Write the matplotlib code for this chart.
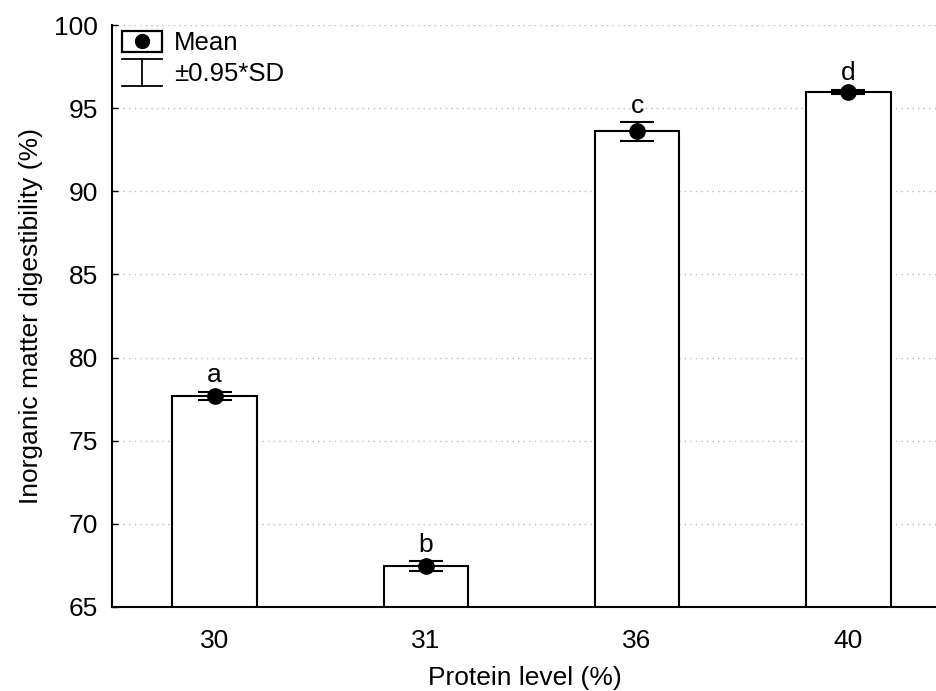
import matplotlib

matplotlib.use("Agg")
import matplotlib.pyplot as plt
from matplotlib.legend_handler import HandlerBase
from matplotlib.lines import Line2D
from matplotlib.patches import Rectangle

plt.rcParams["font.family"] = ["Liberation Sans", "DejaVu Sans"]

LEVELS = ["30", "31", "36", "40"]
MEANS = [77.7, 67.45, 93.6, 96.0]
ERRS = [0.25, 0.3, 0.57, 0.12]
LETTERS = ["a", "b", "c", "d"]
YTICKS = [65, 70, 75, 80, 85, 90, 95, 100]


class MeanHandler(HandlerBase):
    def create_artists(self, legend, orig, xd, yd, w, h, fs, trans):
        box = Rectangle((-xd, -yd - 0.1 * h), w, h * 1.2, facecolor="white",
                        edgecolor="black", lw=1.6, transform=trans)
        dot = Line2D([w / 2 - xd], [h / 2 - yd], marker="o", ms=10, color="black",
                     transform=trans)
        return [box, dot]


class ErrHandler(HandlerBase):
    def create_artists(self, legend, orig, xd, yd, w, h, fs, trans):
        top, bot = h * 1.2 - yd, -h * 0.3 - yd
        mid = w / 2 - xd
        return [
            Line2D([-xd, w - xd], [top, top], color="black", lw=1.3, transform=trans),
            Line2D([-xd, w - xd], [bot, bot], color="black", lw=1.3, transform=trans),
            Line2D([mid, mid], [bot, top], color="black", lw=1.3, transform=trans),
        ]


fig = plt.figure(figsize=(9.37, 6.91), dpi=100)
ax = fig.add_axes([0.1195, 0.1216, 0.8805, 0.8422])

x = list(range(len(LEVELS)))
ax.bar(x, [m - 65 for m in MEANS], bottom=65, width=0.4, facecolor="white",
       edgecolor="black", lw=1.5, zorder=3)
ax.errorbar(x, MEANS, yerr=ERRS, fmt="o", ms=11, color="black", ecolor="black",
            elinewidth=1.5, capsize=12, capthick=1.5, zorder=4)
for xi, m, e, lab in zip(x, MEANS, ERRS, LETTERS):
    ax.annotate(lab, (xi, m + e), xytext=(0, 3), textcoords="offset points",
                ha="center", va="bottom", fontsize=19)

ax.set_xlim(-0.486, 3.42)
ax.set_ylim(65, 100)
ax.set_xticks(x)
ax.set_xticklabels(LEVELS)
ax.set_yticks(YTICKS)
ax.tick_params(direction="in", labelsize=19, length=4, width=1)
ax.tick_params(axis="y", pad=10)
ax.tick_params(axis="x", pad=16)
ax.yaxis.grid(True, linestyle=(0, (1, 3)), color="#bbbbbb", lw=1)
ax.set_axisbelow(True)
for side in ["top", "right"]:
    ax.spines[side].set_visible(False)
for side in ["left", "bottom"]:
    ax.spines[side].set_linewidth(1.5)

ax.set_xlabel("Protein level (%)", fontsize=19, labelpad=9)
ax.set_ylabel("Inorganic matter digestibility (%)", fontsize=19, labelpad=8)

h_mean = Line2D([], [])
h_err = Line2D([], [])
ax.legend([h_mean, h_err], ["Mean", "±0.95*SD"], loc="upper left",
          bbox_to_anchor=(-0.003, 1.011), frameon=False, fontsize=18.5,
          handler_map={h_mean: MeanHandler(), h_err: ErrHandler()},
          handlelength=1.55, handletextpad=0.45, borderaxespad=0.4,
          borderpad=0.1, labelspacing=0.25)

fig.savefig("out.png", dpi=100)
